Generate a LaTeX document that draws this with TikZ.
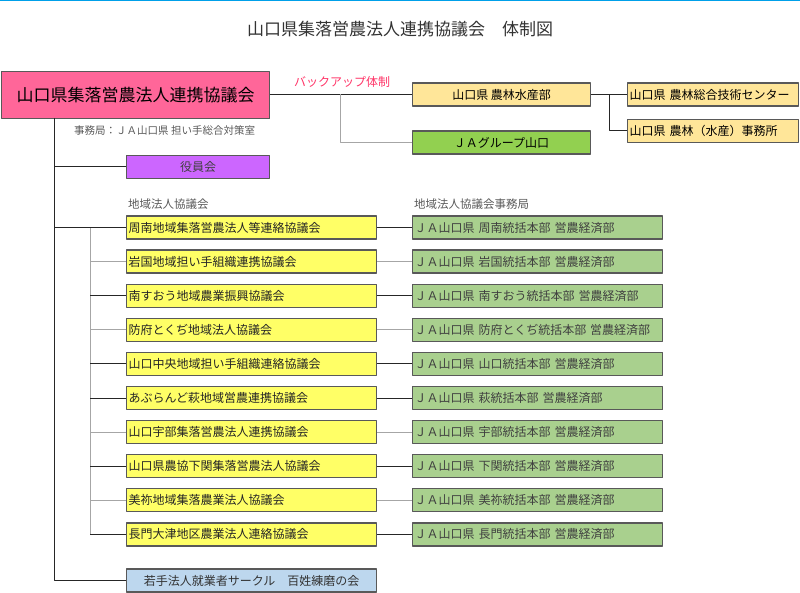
\documentclass[tikz,border=0pt]{standalone}
\usepackage{fontspec}
\setmainfont{Noto Sans CJK JP}
\usetikzlibrary{calc}

\definecolor{pinkbox}{HTML}{FF6699}
\definecolor{orangebox}{HTML}{FFE699}
\definecolor{jagreen}{HTML}{92D050}
\definecolor{purplebox}{HTML}{CC66FF}
\definecolor{yellowbox}{HTML}{FFFF66}
\definecolor{greenbox}{HTML}{A9D08E}
\definecolor{bluebox}{HTML}{BDD7EE}
\definecolor{topline}{HTML}{00A0E9}
\definecolor{backupred}{HTML}{FF3366}

\tikzset{
    basebox/.style={draw=black!65, line width=1.2pt, inner sep=0pt,
        minimum height=23pt, font=\fontsize{12}{14}\selectfont},
    leftbox/.style={basebox, fill=yellowbox, text=black!85,
        text width=246pt, inner xsep=2pt, align=left, anchor=west},
    rightbox/.style={basebox, fill=greenbox, text=black!75,
        text width=246pt, inner xsep=2pt, align=left, anchor=west},
    darkline/.style={black!85, line width=1pt},
    lightline/.style={black!35, line width=1pt},
    note/.style={inner sep=0pt, text=black!65, font=\fontsize{11.5}{13}\selectfont}
}

\begin{document}
\begin{tikzpicture}[x=1pt, y=-1pt, line join=round]
    \useasboundingbox (0,0) rectangle (800,593);

    % 上端の線とタイトル
    \draw[topline, line width=1.5pt] (0,0.75) -- (800,0.75);
    \node[inner sep=0pt, text=black!80, font=\fontsize{17}{19}\selectfont]
        (title) at (400,29) {山口県集落営農法人連携協議会　体制図};

    % 協議会本体
    \node[basebox, fill=pinkbox, minimum width=268pt, minimum height=47pt,
        font=\fontsize{17}{19}\selectfont, anchor=north west]
        (main) at (1,71) {山口県集落営農法人連携協議会};
    \node[note, anchor=west, font=\fontsize{10.5}{12}\selectfont]
        (office) at (74,131) {事務局：ＪＡ山口県 担い手総合対策室};

    % バックアップ体制
    \node[basebox, fill=orangebox, minimum width=178pt, anchor=west]
        (nousui) at (412,94.5) {山口県 農林水産部};
    \node[basebox, fill=jagreen, minimum width=178pt, anchor=west]
        (jag) at (412,142.5) {ＪＡグループ山口};
    \node[basebox, fill=orangebox, text width=167pt, inner xsep=2pt,
        align=left, anchor=west] (center) at (627,94.5) {山口県 農林総合技術センター};
    \node[basebox, fill=orangebox, text width=167pt, inner xsep=2pt,
        align=left, anchor=west] (jimusho) at (627,131) {山口県 農林（水産）事務所};
    \node[inner sep=0pt, text=backupred, font=\fontsize{12}{14}\selectfont]
        (backup) at (342,82) {バックアップ体制};

    \coordinate (bk) at (340,94.5);
    \coordinate (sub) at (609,94.5);
    \draw[darkline] (main.east |- nousui.west) -- (nousui.west);
    \draw[lightline] (bk) |- (jag.west);
    \draw[darkline] (nousui.east) -- (center.west);
    \draw[darkline] (sub) |- (jimusho.west);

    % 役員会
    \node[basebox, fill=purplebox, text=black!75, minimum width=143pt, anchor=west]
        (yakuin) at (126,167) {役員会};

    % 地域法人協議会
    \node[note, anchor=west] (lhead) at (128,204) {地域法人協議会};
    \node[note, anchor=west] (rhead) at (414,204) {地域法人協議会事務局};

    \foreach \i/\c/\a/\b in {
        1/darkline/周南地域集落営農法人等連絡協議会/周南統括本部,
        2/lightline/岩国地域担い手組織連携協議会/岩国統括本部,
        3/darkline/南すおう地域農業振興協議会/南すおう統括本部,
        4/lightline/防府とくぢ地域法人協議会/防府とくぢ統括本部,
        5/darkline/山口中央地域担い手組織連絡協議会/山口統括本部,
        6/darkline/あぶらんど萩地域営農連携協議会/萩統括本部,
        7/lightline/山口宇部集落営農法人連携協議会/宇部統括本部,
        8/darkline/山口県農協下関集落営農法人協議会/下関統括本部,
        9/lightline/美祢地域集落農業法人協議会/美祢統括本部,
        10/darkline/長門大津地区農業法人連絡協議会/長門統括本部} {
        \pgfmathsetmacro{\yy}{227.5+34.1*(\i-1)}
        \node[leftbox] (L\i) at (126,\yy) {\a};
        \node[rightbox] (R\i) at (412,\yy) {ＪＡ山口県 \b\ 営農経済部};
        \draw[\c] (L\i.east) -- (R\i.west);
    }

    % 若手サークル
    \node[basebox, fill=bluebox, text=black!80, minimum width=250pt, anchor=west]
        (circle) at (126,580.5) {若手法人就業者サークル　百姓練磨の会};

    % 幹線
    \coordinate (trunk) at (54,118);
    \coordinate (branch) at (90,227.5);
    \draw[lightline] (branch) -- (branch |- L10.west);
    \foreach \i/\c in {2/lightline,3/darkline,4/lightline,5/darkline,
        6/darkline,7/lightline,8/darkline,9/lightline,10/darkline}
        \draw[\c] (branch |- L\i.west) -- (L\i.west);
    \draw[darkline] (trunk) |- (circle.west);
    \draw[darkline] (trunk |- yakuin.west) -- (yakuin.west);
    \draw[darkline] (trunk |- L1.west) -- (L1.west);

\end{tikzpicture}
\end{document}
